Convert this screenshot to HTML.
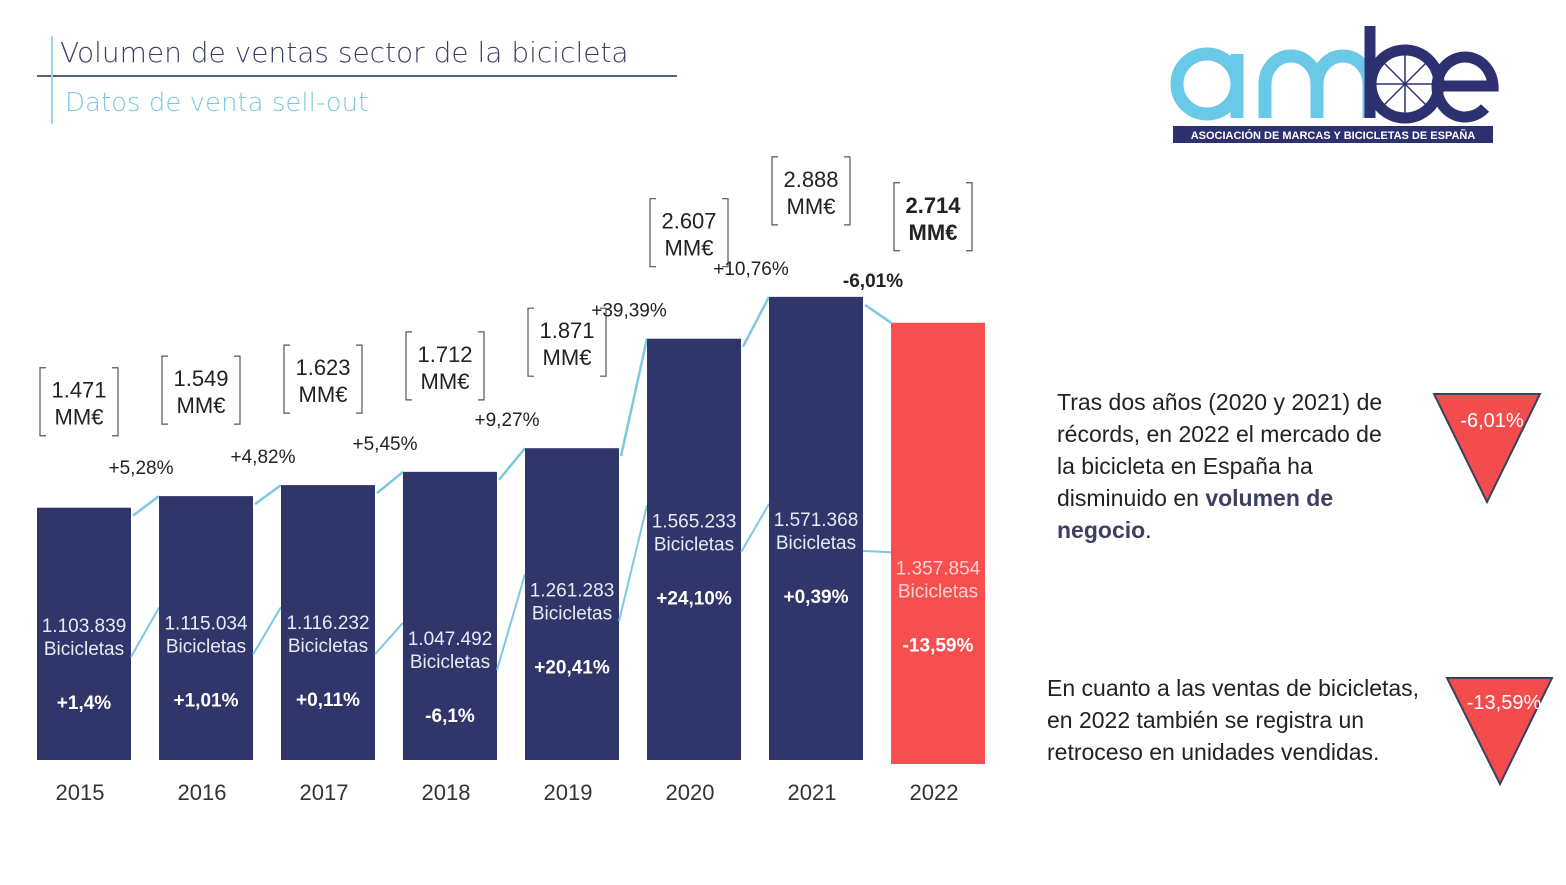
<!DOCTYPE html>
<html><head><meta charset="utf-8"><style>
html,body{margin:0;padding:0;background:#fff}
body{width:1566px;height:885px;position:relative;overflow:hidden;font-family:"Liberation Sans",sans-serif}
.t{position:absolute;font-family:"DejaVu Sans","Liberation Sans",sans-serif}
</style></head><body>
<div class="t" style="left:60px;top:36px;font-size:28px;color:#3b3f62;font-weight:300">Volumen de ventas sector de la bicicleta</div>
<div style="position:absolute;left:37px;top:75px;width:640px;height:2px;background:#5b6080"></div>
<div style="position:absolute;left:51px;top:36px;width:2px;height:88px;background:#9fd4e6"></div>
<div class="t" style="left:65px;top:88px;font-size:26px;color:#7cc8e0;font-weight:300">Datos de venta sell-out</div>

<svg style="position:absolute;left:1165px;top:22px" width="340" height="125">
<g fill="none" stroke="#6bc9e8" stroke-width="13">
<ellipse cx="42" cy="62" rx="30" ry="30"/><line x1="72" y1="32" x2="72" y2="96"/>
<path d="M100 96 V62 a26 28 0 0 1 52 0 V96 M152 62 a26 28 0 0 1 52 0 V96"/>
</g>
<g fill="none" stroke="#2d3170" stroke-width="11">
<line x1="205" y1="4" x2="205" y2="96"/><circle cx="240" cy="62" r="34"/>
<path d="M278 64 H328 a28 30 0 1 0 -8 22"/>
</g>
<g stroke="#2d3170" stroke-width="1.5"><line x1="240" y1="30" x2="240" y2="94"/><line x1="208" y1="62" x2="272" y2="62"/><line x1="217" y1="39" x2="263" y2="85"/><line x1="263" y1="39" x2="217" y2="85"/></g>
<rect x="8" y="104" width="320" height="17" fill="#2d3170"/>
<text x="168" y="117" fill="#fff" font-size="11" font-weight="bold" text-anchor="middle" font-family="Liberation Sans">ASOCIACIÓN DE MARCAS Y BICICLETAS DE ESPAÑA</text>
</svg>

<svg id="chart" style="position:absolute;left:0;top:0" width="1020" height="885"></svg>

<div class="t" style="left:1057px;top:386px;font-size:23px;line-height:32px;color:#222;font-family:'Liberation Sans',sans-serif">Tras dos años (2020 y 2021) de<br>récords, en 2022 el mercado de<br>la bicicleta en España ha<br>disminuido en <b style="color:#3b3f62">volumen de<br>negocio</b>.</div>
<div class="t" style="left:1047px;top:672px;font-size:23px;line-height:32px;color:#222;font-family:'Liberation Sans',sans-serif">En cuanto a las ventas de bicicletas,<br>en 2022 también se registra un<br>retroceso en unidades vendidas.</div>
<svg style="position:absolute;left:1420px;top:380px" width="146" height="420">
<polygon points="14,14 120,14 67,122" fill="#f24c4c" stroke="#3b3f62" stroke-width="2"/>
<text x="72" y="47" fill="#fff" font-size="20" text-anchor="middle" font-family="Liberation Sans">-6,01%</text>
<polygon points="27,298 132,298 80,404" fill="#f24c4c" stroke="#3b3f62" stroke-width="2"/>
<text x="84" y="329" fill="#fff" font-size="20" text-anchor="middle" font-family="Liberation Sans">-13,59%</text>
</svg>

<script>
const years=["2015","2016","2017","2018","2019","2020","2021","2022"];
const revenue=[1471,1549,1623,1712,1871,2607,2888,2714];
const revenueLabels=["1.471","1.549","1.623","1.712","1.871","2.607","2.888","2.714"];
const revenueGrowth=["+5,28%","+4,82%","+5,45%","+9,27%","+39,39%","+10,76%","-6,01%"];
const units=[1103839,1115034,1116232,1047492,1261283,1565233,1571368,1357854];
const unitsLabels=["1.103.839","1.115.034","1.116.232","1.047.492","1.261.283","1.565.233","1.571.368","1.357.854"];
const unitsGrowth=["+1,4%","+1,01%","+0,11%","-6,1%","+20,41%","+24,10%","+0,39%","-13,59%"];

const svg=document.getElementById('chart');
const NS='http://www.w3.org/2000/svg';
const base=760, x0=37, pitch=122, bw=94;
function xL(i){return x0+i*pitch;}
function yV(v){return base-(33.4+0.1488*v);}
function yU(u){return 632-(u-1103839)*0.000227;}
function mk(tag,attrs,txt){const e=document.createElementNS(NS,tag);for(const k in attrs)e.setAttribute(k,attrs[k]);if(txt!==undefined)e.textContent=txt;svg.appendChild(e);return e;}

years.forEach((y,i)=>{
  const last=i===years.length-1;
  const top=yV(revenue[i]);
  const r=mk('rect',{x:xL(i),y:top,width:bw,height:(last?base+4:base)-top,fill:last?'#f74f4f':'#30356a'});
  
  
  const cx=xL(i)+bw/2;
  const t=mk('text',{x:cx-4,y:800,'font-size':22,fill:'#333','text-anchor':'middle'},y);
  
  
  const bb=top-72, bt=bb-68;
  const g=mk('g',{stroke:'#555',fill:'none','stroke-width':1.2});
  
  
  const bx=cx-44;
  g.innerHTML=`<path d="M${bx+6} ${bt} H${bx} V${bb} H${bx+6} M${bx+72} ${bt} H${bx+78} V${bb} H${bx+72}"/>`;
  const fw=last?'bold':'normal';
  const a=mk('text',{x:bx+39,y:bt+30,'font-size':22,fill:'#222','text-anchor':'middle','font-weight':fw},revenueLabels[i]);
  
  
  const b=mk('text',{x:bx+39,y:bt+57,'font-size':22,fill:'#222','text-anchor':'middle','font-weight':fw},'MM€');
  
  
  const uy=yU(units[i]);
  const col=last?'#ffd0d0':'#e8eaf5';
  const u1=mk('text',{x:cx,y:uy,'font-size':19,fill:col,'text-anchor':'middle'},unitsLabels[i]);
  
  
  const u2=mk('text',{x:cx,y:uy+23,'font-size':19,fill:col,'text-anchor':'middle'},'Bicicletas');
  
  
  const u3=mk('text',{x:cx,y:uy+77,'font-size':19,fill:'#fff','text-anchor':'middle','font-weight':'bold'},unitsGrowth[i]);
  
  
  if(i<years.length-1){
    const t2=yV(revenue[i+1]);
    const l=mk('line',{x1:xL(i)+bw+2,y1:top+8,x2:xL(i+1),y2:t2,stroke:'#7ec8e3','stroke-width':2.5});
    
    
    const neg=revenueGrowth[i][0]==='-';
    const g2=mk('text',{x:xL(i)+bw+10,y:Math.min(top,t2)-(neg?10:22),'font-size':19,fill:'#222','text-anchor':'middle','font-weight':neg?'bold':'normal'},revenueGrowth[i]);
    
    
    const uy2=yU(units[i+1]);
    const l2=mk('line',{x1:xL(i)+bw,y1:uy+25,x2:xL(i+1),y2:uy2-22,stroke:'#7ec8e3','stroke-width':2});
    
    
  }
});
</script>
</body></html>
